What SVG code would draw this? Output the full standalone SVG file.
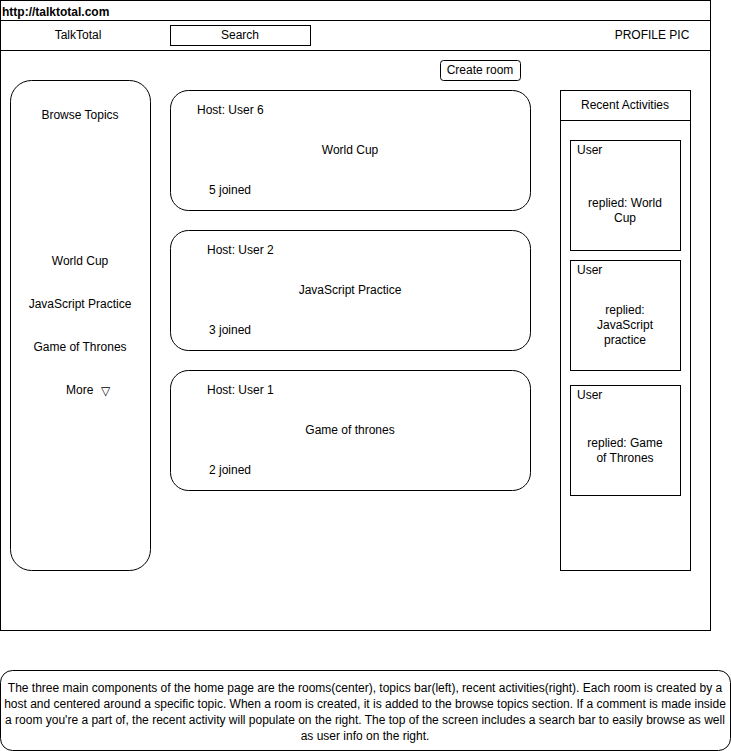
<svg xmlns="http://www.w3.org/2000/svg" width="731" height="751" viewBox="0 0 731 751">
<style>
.b{fill:#fff;stroke:#000;stroke-width:1}
text{font-family:"Liberation Sans",Arial,sans-serif;font-size:12px;fill:#000}
.c{text-anchor:middle}
</style>
<rect width="731" height="751" fill="#fff"/>
<g id="frame">
<rect class="b" x="0.5" y="0.5" width="710" height="630"/>
<line x1="0.5" y1="20.5" x2="710.5" y2="20.5" stroke="#000"/>
<line x1="0.5" y1="50.5" x2="710.5" y2="50.5" stroke="#000"/>
<text x="2" y="16" font-weight="bold">http://talktotal.com</text>
</g>
<g id="brand"><text class="c" x="78" y="39">TalkTotal</text></g>
<g id="search"><rect class="b" x="170.5" y="25.5" width="140" height="20"/><text class="c" x="240" y="39">Search</text></g>
<g id="profile"><text class="c" x="652" y="39">PROFILE PIC</text></g>
<g id="create-room"><rect class="b" x="440.5" y="60.5" width="80" height="20" rx="3"/><text class="c" x="480" y="74">Create room</text></g>
<g id="topics">
<rect class="b" x="10.5" y="80.5" width="140" height="490" rx="21"/>
<text class="c" x="80" y="119">Browse Topics</text>
<text class="c" x="80" y="265">World Cup</text>
<text class="c" x="80" y="308">JavaScript Practice</text>
<text class="c" x="80" y="351">Game of Thrones</text>
<text x="66" y="394">More</text>
<text class="c" x="105" y="395" font-size="14">▽</text>
</g>
<g id="room1">
<rect class="b" x="170.5" y="90.5" width="360" height="120" rx="18"/>
<text x="197" y="114">Host: User 6</text>
<text class="c" x="350" y="154">World Cup</text>
<text x="209" y="194">5 joined</text>
</g>
<g id="room2">
<rect class="b" x="170.5" y="230.5" width="360" height="120" rx="18"/>
<text x="207" y="254">Host: User 2</text>
<text class="c" x="350" y="294">JavaScript Practice</text>
<text x="209" y="334">3 joined</text>
</g>
<g id="room3">
<rect class="b" x="170.5" y="370.5" width="360" height="120" rx="18"/>
<text x="207" y="394">Host: User 1</text>
<text class="c" x="350" y="434">Game of thrones</text>
<text x="209" y="474">2 joined</text>
</g>
<g id="activities">
<rect class="b" x="560.5" y="90.5" width="130" height="480"/>
<line x1="560.5" y1="120.5" x2="690.5" y2="120.5" stroke="#000"/>
<text class="c" x="625" y="109">Recent Activities</text>
</g>
<g id="act1">
<rect class="b" x="570.5" y="140.5" width="110" height="110"/>
<text x="577" y="154">User</text>
<text class="c" x="625" y="207">replied: World</text>
<text class="c" x="625" y="222">Cup</text>
</g>
<g id="act2">
<rect class="b" x="570.5" y="260.5" width="110" height="110"/>
<text x="577" y="274">User</text>
<text class="c" x="625" y="314">replied:</text>
<text class="c" x="625" y="329">JavaScript</text>
<text class="c" x="625" y="344">practice</text>
</g>
<g id="act3">
<rect class="b" x="570.5" y="385.5" width="110" height="110"/>
<text x="577" y="399">User</text>
<text class="c" x="625" y="447">replied: Game</text>
<text class="c" x="625" y="462">of Thrones</text>
</g>
<g id="connectors"></g>
<g id="note">
<rect class="b" x="0.5" y="670.5" width="730" height="80" rx="12"/>
<text class="c" x="365" y="692">The three main components of the home page are the rooms(center), topics bar(left), recent activities(right). Each room is created by a</text>
<text class="c" x="365" y="708">host and centered around a specific topic. When a room is created, it is added to the browse topics section. If a comment is made inside</text>
<text class="c" x="365" y="724">a room you're a part of, the recent activity will populate on the right. The top of the screen includes a search bar to easily browse as well</text>
<text class="c" x="365" y="740">as user info on the right.</text>
</g>
</svg>
